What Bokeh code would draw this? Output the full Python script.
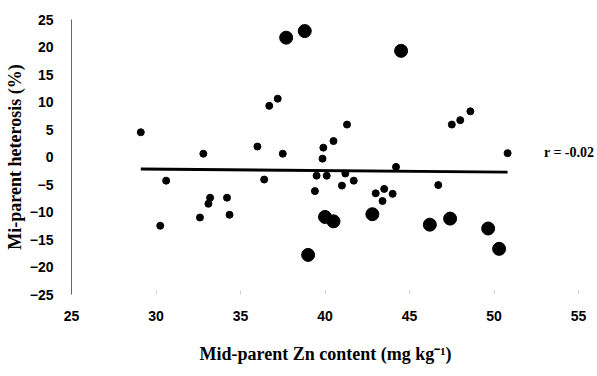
from bokeh.plotting import figure
from bokeh.models import Range1d, FixedTicker, Label
from bokeh.embed import file_html
from bokeh.resources import INLINE

# Mid-parent Zn content (mg/kg) vs mid-parent heterosis (%)
# Crosses with non-significant heterosis (small markers)
zn_small = [29.1, 30.6, 32.8, 36.0, 36.4, 36.7, 37.2, 37.5, 41.3, 40.5, 39.9, 39.85,
            47.5, 48.0, 48.6, 50.8, 44.2, 39.5, 40.1, 41.2, 41.7, 41.0, 39.4, 43.0,
            43.5, 44.0, 43.4, 46.7, 33.2, 33.1, 34.2, 34.35, 32.6, 30.25]
het_small = [4.5, -4.3, 0.6, 1.9, -4.1, 9.3, 10.6, 0.6, 5.9, 2.9, 1.7, -0.3,
             5.9, 6.7, 8.3, 0.7, -1.8, -3.4, -3.4, -3.0, -4.3, -5.2, -6.2, -6.6,
             -5.8, -6.7, -8.0, -5.1, -7.4, -8.5, -7.4, -10.5, -11.0, -12.5]
# Crosses with significant heterosis (large markers)
zn_large = [37.7, 38.8, 44.5, 40.0, 40.5, 42.8, 46.2, 47.4, 49.65, 50.3, 39.0]
het_large = [21.7, 22.9, 19.3, -10.9, -11.7, -10.4, -12.3, -11.2, -13.0, -16.7, -17.8]

# Fitted regression line (r = -0.02)
fit_x = [29.1, 50.8]
fit_y = [-2.2, -2.75]

x_ticks = [25, 30, 35, 40, 45, 50, 55]
y_ticks = [-25, -20, -15, -10, -5, 0, 5, 10, 15, 20, 25]

# the frame runs to the right edge so the r annotation is not clipped;
# tick 55 still sits where the last axis tick belongs
p = figure(width=597, height=376, output_backend="svg", toolbar_location=None,
           x_range=Range1d(25, 56.12), y_range=Range1d(-25, 25),
           min_border_left=71, min_border_right=0, min_border_top=19,
           min_border_bottom=82)
p.outline_line_color = None
p.xgrid.visible = False
p.ygrid.visible = False
p.background_fill_color = "white"
p.border_fill_color = "white"

p.line(fit_x, fit_y, line_color="black", line_width=3)
p.scatter(zn_small, het_small, size=7, fill_color="black", line_color="black")
p.scatter(zn_large, het_large, size=13, fill_color="black", line_color="black")

lab_font = "Liberation Sans"
title_font = "Liberation Serif"

xa = p.xaxis[0]
xa.ticker = FixedTicker(ticks=x_ticks)
xa.axis_line_color = None
xa.major_tick_line_color = "#d0d0d0"
xa.major_tick_in = 4
xa.major_tick_out = 0
xa.minor_tick_line_color = None
xa.major_label_text_font = lab_font
xa.major_label_text_font_style = "bold"
xa.major_label_text_font_size = "14px"
xa.major_label_text_color = "black"
xa.major_label_standoff = 16
# trailing no-break spaces nudge the centred title slightly left
xa.axis_label = "Mid-parent Zn content (mg kg\u207b\u00b9)\u00a0\u00a0\u00a0\u00a0"
xa.axis_label_text_font = title_font
xa.axis_label_text_font_style = "bold"
xa.axis_label_text_font_size = "18px"
xa.axis_label_text_color = "black"
xa.axis_label_standoff = 20

ya = p.yaxis[0]
ya.ticker = FixedTicker(ticks=y_ticks)
ya.axis_line_color = "#666666"
ya.axis_line_width = 1
ya.major_tick_line_color = None
ya.minor_tick_line_color = None
ya.major_label_text_font = lab_font
ya.major_label_text_font_style = "bold"
ya.major_label_text_font_size = "14px"
ya.major_label_text_color = "black"
ya.major_label_standoff = 12
ya.axis_label = "Mi-parent heterosis (%)"
ya.axis_label_text_font = title_font
ya.axis_label_text_font_style = "bold"
ya.axis_label_text_font_size = "18px"
ya.axis_label_text_color = "black"
ya.axis_label_standoff = 2

p.add_layout(Label(x=52.95, y=0.8, text="r = -0.02", text_font=title_font,
                   text_font_style="bold", text_font_size="14px",
                   text_color="black", text_baseline="middle"))

open("out.html", "w").write(file_html(p, INLINE))
